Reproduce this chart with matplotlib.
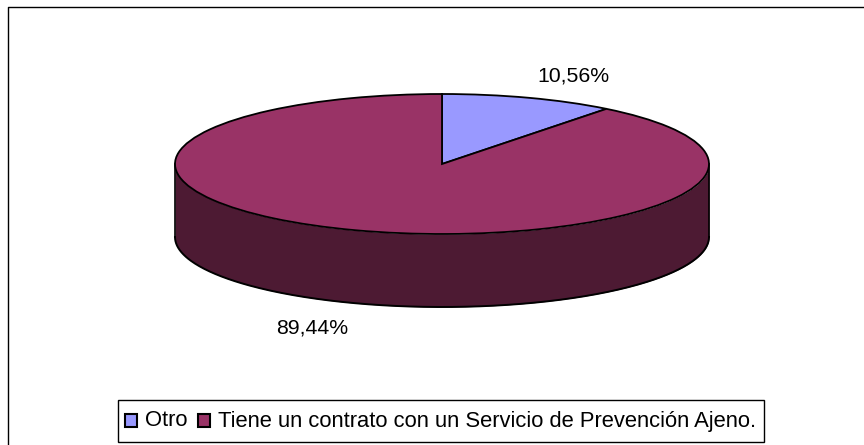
import numpy as np
import matplotlib
matplotlib.use("Agg")
import matplotlib.pyplot as plt
from matplotlib.lines import Line2D
from matplotlib.patches import Rectangle

categories = ["Otro", "Tiene un contrato con un Servicio de Prevención Ajeno."]
values = [10.56, 89.44]
value_labels = ["10,56%", "89,44%"]
colors = ["#9999FF", "#993366"]
wall_color = "#4D1A33"

W, H = 864, 445
CX, CY, RX, RY, DEPTH = 442, 164, 267, 70, 73
FS_LABEL = 15.3
FS_LEGEND = 15.8

plt.rcParams["font.family"] = ["Liberation Sans", "DejaVu Sans"]
fig = plt.figure(figsize=(W / 100, H / 100), dpi=100)
ax = fig.add_axes([0, 0, 1, 1])

# wall (front half of the rim)
t = np.linspace(np.pi, 2 * np.pi, 300)
d = DEPTH / RY
ax.fill_between(np.cos(t), np.sin(t), np.sin(t) - d, color=wall_color, lw=0, zorder=1)
ax.plot(np.cos(t), np.sin(t) - d, color="black", lw=1.4, zorder=2)
ax.plot([-1, -1], [0, -d], color="black", lw=1.2, zorder=2)
ax.plot([1, 1], [0, -d], color="black", lw=1.2, zorder=2)

wedges, _ = ax.pie(values, colors=colors, startangle=90, counterclock=False, radius=1,
                   wedgeprops=dict(edgecolor="black", linewidth=1.3, zorder=3))
ax.set_aspect("auto")
ax.set_xlim((0 - CX) / RX, (W - CX) / RX)
ax.set_ylim((CY - H) / RY, CY / RY)
ax.set_axis_off()

def px(x, y):
    return (x - CX) / RX, (CY - y) / RY

ax.text(*px(573, 82), value_labels[0], fontsize=FS_LABEL, ha="center", va="baseline", zorder=5)
ax.text(*px(312, 333), value_labels[1], fontsize=FS_LABEL, ha="center", va="baseline", zorder=5)

# outer frame: only the top and left edges fall inside the picture
fig.add_artist(Line2D([7.5 / W, 7.5 / W, 1], [0, 1 - 6.5 / H, 1 - 6.5 / H],
                      transform=fig.transFigure, color="black", lw=1))

# legend box
fig.add_artist(Rectangle((117.5 / W, 1 - 442 / H), 646 / W, 42 / H, transform=fig.transFigure,
                         facecolor="white", edgecolor="black", lw=1))
fs_px = FS_LEGEND * 100 / 72
leg = fig.legend(wedges, categories, loc="center left",
                 bbox_to_anchor=(125 / W, 1 - 421 / H),
                 ncol=2, fontsize=FS_LEGEND, frameon=False,
                 handlelength=12 / fs_px, handleheight=12 / fs_px,
                 handletextpad=8 / fs_px, columnspacing=10 / fs_px,
                 borderpad=0, borderaxespad=0)
for h in leg.legend_handles:
    h.set_linewidth(1.5)
    h.set_y(h.get_y() - 1.5)

fig.savefig("out.png", dpi=100)
